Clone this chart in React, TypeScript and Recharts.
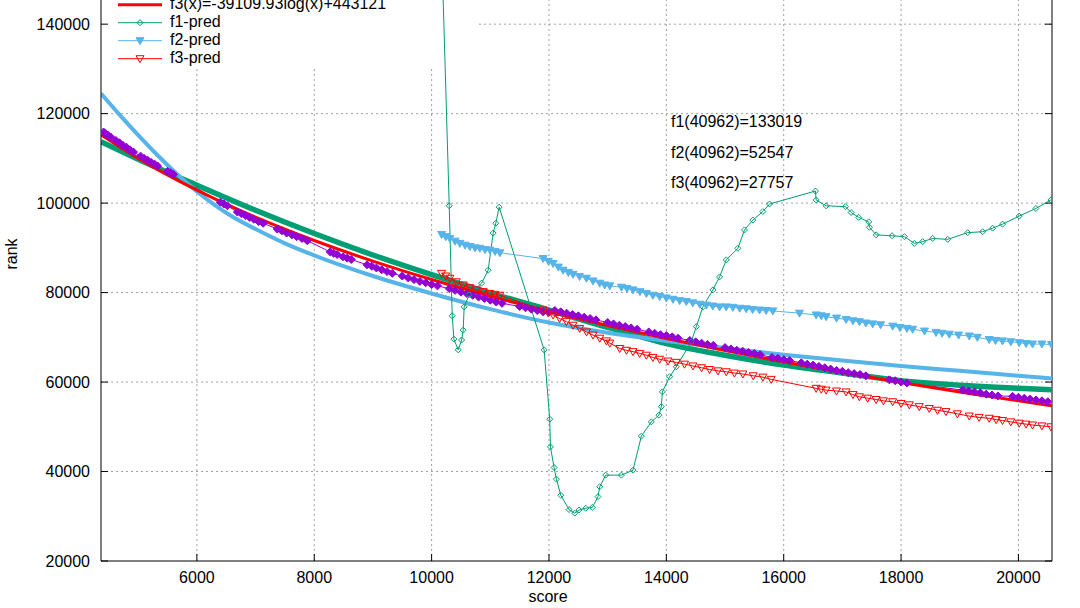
import { ComposedChart, Line, XAxis, YAxis, ReferenceLine } from 'recharts'

type Pt = [number, number]

const X_MIN = 4366
const X_MAX = 20572
const Y_MIN = 20000
const Y_MAX = 145400

const xTicks = [6000, 8000, 10000, 12000, 14000, 16000, 18000, 20000]
const yTicks = [20000, 40000, 60000, 80000, 100000, 120000, 140000]

// measured rank data (purple diamonds)
const rankData: Pt[] = [
  [4410, 115900], [4450, 115500], [4490, 115100], [4530, 114800],
  [4620, 114000], [4680, 113500], [4740, 112900], [4800, 112500], [4860, 111900], [4920, 111400],
  [5040, 110500], [5100, 110000], [5160, 109600], [5220, 109100], [5280, 108700], [5330, 108300],
  [5500, 107100], [5550, 106800], [5600, 106400],
  [6400, 100200], [6460, 99800], [6520, 99400],
  [6690, 98000], [6760, 97600], [6830, 97200], [6900, 96800], [6970, 96400], [7050, 95900], [7130, 95500],
  [7370, 94200], [7450, 93800], [7530, 93300], [7620, 92900], [7700, 92500], [7790, 92100], [7880, 91600],
  [8270, 89100], [8330, 88800], [8390, 88500],
  [8490, 88000], [8560, 87700], [8630, 87400],
  [8900, 86200], [8980, 85900], [9060, 85500], [9150, 85100], [9240, 84700], [9330, 84300],
  [9500, 83700], [9600, 83300], [9700, 82900], [9800, 82500], [9900, 82200], [10000, 81800], [10100, 81500],
  [10300, 80900], [10400, 80500], [10500, 80100], [10600, 79800], [10700, 79400], [10800, 79000],
  [10900, 78700], [11000, 78300], [11100, 77900], [11200, 77600],
  [11500, 76900], [11600, 76600], [11700, 76300], [11800, 76000], [11900, 75700], [12000, 75600],
  [12100, 76000], [12200, 75700], [12300, 75400], [12400, 75100], [12500, 74800], [12600, 74500],
  [12700, 74200], [12800, 73900],
  [13000, 73300], [13100, 73000], [13200, 72700], [13300, 72400], [13400, 72100], [13500, 71800],
  [13700, 71200], [13800, 70900], [13900, 70600], [14000, 70400], [14100, 70100], [14200, 69800],
  [14400, 69300], [14500, 69000], [14600, 68700], [14700, 68400], [14800, 68200],
  [15000, 67700], [15100, 67400], [15200, 67100], [15300, 66900], [15400, 66600], [15500, 66400], [15600, 66100],
  [15800, 65500], [15900, 65300], [16000, 65000], [16100, 64800],
  [16300, 64300], [16400, 64000], [16500, 63800], [16600, 63500], [16700, 63200], [16800, 62900], [16900, 62600],
  [17000, 62400], [17100, 62100], [17200, 61900], [17300, 61700], [17400, 61400],
  [17800, 60500], [17900, 60300], [18000, 60000], [18100, 59800],
  [19050, 58200], [19150, 58000], [19250, 57800], [19350, 57600], [19450, 57300], [19550, 57100], [19650, 56900],
  [19900, 56800], [20000, 56600], [20100, 56400], [20200, 56200], [20300, 56000], [20400, 55800], [20500, 55600],
]

// fitted curves
const f1Fit: Pt[] = [
  [4366, 113700], [5000, 109800], [6000, 104000], [7000, 98400], [8000, 93200], [9000, 88400],
  [10000, 84000], [11000, 79900], [12000, 76100], [13000, 72200], [14000, 68600], [15000, 66000],
  [16000, 63800], [17000, 62000], [18000, 60300], [19000, 59300], [20000, 58600], [20572, 58300],
]
const f2Fit: Pt[] = [
  [4366, 124500], [4700, 119500], [5000, 115200], [5330, 110700], [5660, 106500], [6000, 102600],
  [6300, 99600], [6600, 97000], [7000, 94200], [7500, 91000], [8000, 88300], [9000, 83700],
  [10000, 79800], [11000, 76300], [12000, 73300], [13000, 71000], [14000, 69200], [15000, 67600],
  [16000, 66100], [17000, 64800], [18000, 63600], [19000, 62500], [20000, 61400], [20572, 60800],
]
const f3Fit: Pt[] = [
  [4366, 115300], [5000, 110000], [6000, 102900], [7000, 96850], [8000, 91640], [9000, 87030],
  [10000, 82910], [11000, 79180], [12000, 75770], [13000, 72640], [14000, 69750], [15000, 67050],
  [16000, 64530], [17000, 62150], [18000, 59920], [19000, 57800], [20000, 55800], [20572, 54700],
]

// predictions
const f1Pred: Pt[] = [
  [10170, 157500], [10300, 99400], [10351, 74800], [10380, 69600], [10453, 67200], [10511, 69400],
  [10538, 71600], [10555, 76800], [10640, 79500], [10851, 82100], [10963, 85000], [11049, 93300],
  [11094, 95500], [11151, 99100], [11917, 67200], [12013, 51700], [12025, 45500], [12087, 40900],
  [12127, 38300], [12201, 34700], [12342, 31500], [12439, 30700], [12513, 31400], [12626, 31800],
  [12740, 32000], [12836, 34400], [12865, 36600], [12967, 39200], [13234, 39200], [13432, 40300],
  [13574, 47900], [13744, 51100], [13874, 52600], [13915, 54500], [13932, 57800], [14056, 61200],
  [14170, 63400], [14425, 69000], [14511, 72400], [14623, 76800], [14793, 80600], [14907, 83500],
  [15021, 87300], [15219, 89900], [15332, 94000], [15474, 96200], [15645, 98100], [15758, 99800],
  [16541, 102700], [16553, 100700], [16723, 99400], [17052, 99200], [17149, 97900], [17279, 96800],
  [17449, 95800], [17461, 94600], [17575, 92900], [17847, 92700], [18057, 92500], [18227, 91000],
  [18369, 91400], [18539, 92100], [18795, 91900], [19135, 93400], [19390, 93600], [19560, 94400],
  [19730, 95300], [20013, 97100], [20297, 98800], [20553, 100700],
]
const f2Pred: Pt[] = [
  [10170, 93000], [10240, 92500], [10311, 92100], [10400, 91500], [10482, 91000], [10570, 90600],
  [10652, 90300], [10740, 90000], [10822, 89900], [10910, 89600], [10992, 89500], [11080, 89200],
  [11163, 88900],
  [11900, 87600], [11990, 87000], [12070, 86500], [12160, 85700], [12240, 85000], [12330, 84500],
  [12410, 84100], [12520, 83600], [12638, 83200], [12750, 82600], [12865, 82100], [12950, 81700],
  [13036, 81500],
  [13234, 81200], [13330, 80900], [13432, 80600], [13550, 80200], [13659, 79800], [13770, 79400],
  [13886, 79100], [14000, 78800], [14113, 78500], [14227, 78200],
  [14340, 78000], [14450, 77700], [14570, 77400], [14681, 77200], [14790, 77000], [14907, 76800],
  [15020, 76800], [15134, 76700], [15250, 76500], [15361, 76400], [15470, 76200], [15588, 76100],
  [15700, 76000], [15815, 75900],
  [16269, 75400], [16553, 75000], [16640, 74800], [16723, 74600], [16900, 74300], [17063, 74000],
  [17180, 73700], [17290, 73500], [17400, 73200], [17517, 73000], [17650, 72800], [17857, 72500],
  [17980, 72200], [18100, 72000], [18197, 71800], [18400, 71400], [18595, 71100], [18700, 70900],
  [18822, 70700], [18980, 70500], [19162, 70300], [19300, 70000], [19502, 69500], [19610, 69300],
  [19729, 69200], [19870, 69000], [20013, 68800], [20130, 68600], [20240, 68500], [20400, 68500],
  [20563, 68400],
]
const f3Pred: Pt[] = [
  [10170, 84300], [10240, 83700], [10311, 83200], [10420, 82400], [10538, 81700], [10650, 81100],
  [10765, 80600], [10880, 80200], [10992, 79800], [11080, 79600], [11163, 79400],
  [11900, 76100], [11985, 75500], [12070, 75000], [12180, 74200], [12297, 73500], [12410, 72700],
  [12524, 72000], [12640, 71200], [12751, 70500], [12865, 69800], [12979, 69200], [13036, 68700],
  [13206, 67500], [13320, 67100], [13432, 66800], [13545, 66400], [13659, 66000], [13770, 65500],
  [13886, 65100], [14028, 64700], [14170, 64400], [14310, 64000], [14453, 63600], [14600, 63200],
  [14737, 62800], [14880, 62500], [15021, 62300], [15160, 62000], [15304, 61800], [15480, 61400],
  [15645, 61100], [15787, 60600],
  [16553, 58600], [16640, 58400], [16723, 58200], [16900, 58000], [17063, 57800], [17180, 57200],
  [17290, 56700], [17430, 56400], [17575, 56100], [17700, 55800], [17857, 55600], [18000, 55200],
  [18141, 54900], [18310, 54500], [18481, 54100], [18620, 53700], [18765, 53400], [18960, 52900],
  [19162, 52400], [19330, 52100], [19502, 51900], [19620, 51600], [19729, 51400], [19870, 51100],
  [20013, 50800], [20130, 50600], [20240, 50400], [20400, 50200], [20553, 50000],
]

const PURPLE = '#9400d3'
const GREEN = '#009e73'
const BLUE = '#56b4e9'
const RED = '#ff0000'
const GRID = '#a0a0a0'

const rows = (pts: Pt[]) => pts.map(([x, y]) => ({ x, y }))

const diamond = (fill: string, stroke: string, r: number) => (p: any) => {
  const { cx, cy, index } = p
  if (cx == null || cy == null) return <g key={`d-${index}`} />
  return (
    <path
      key={`d-${index}`}
      d={`M${cx},${cy - r}L${cx + r},${cy}L${cx},${cy + r}L${cx - r},${cy}Z`}
      fill={fill}
      stroke={stroke}
      strokeWidth={1}
    />
  )
}

const triangle = (fill: string, stroke: string) => (p: any) => {
  const { cx, cy, index } = p
  if (cx == null || cy == null) return <g key={`t-${index}`} />
  return (
    <path
      key={`t-${index}`}
      d={`M${cx - 4},${cy - 3}L${cx + 4},${cy - 3}L${cx},${cy + 4}Z`}
      fill={fill}
      stroke={stroke}
      strokeWidth={1}
    />
  )
}

// key area in the top-left has no grid behind it
const KEY_RIGHT = 10807
const KEY_BOTTOM = 130400
const TICK_X = 119
const TICK_Y = 1565

const FONT = '"Liberation Sans", Arial, sans-serif'

const App = () => {
  return (
    <div style={{ position: 'relative', width: 1080, height: 608, overflow: 'hidden', background: '#fff', fontFamily: FONT }}>
      <style>{'body{margin:0}'}</style>
      <ComposedChart width={1080} height={608} margin={{ top: 0, right: 28, bottom: 0, left: 0 }}>
        <XAxis
          type="number"
          dataKey="x"
          domain={[X_MIN, X_MAX]}
          ticks={xTicks}
          interval={0}
          allowDataOverflow
          height={47}
          tickLine={false}
          tickMargin={5}
          axisLine={{ stroke: '#000' }}
          tick={{ fill: '#000', fontSize: 16 }}
        />
        <YAxis
          type="number"
          dataKey="y"
          domain={[Y_MIN, Y_MAX]}
          ticks={yTicks}
          interval={0}
          allowDataOverflow
          width={101}
          tickLine={false}
          tickMargin={5}
          axisLine={{ stroke: '#000' }}
          tick={{ fill: '#000', fontSize: 16 }}
        />

        {xTicks.map((t) => (
          <ReferenceLine
            key={`gx-${t}`}
            segment={[{ x: t, y: Y_MIN }, { x: t, y: t < KEY_RIGHT ? KEY_BOTTOM : Y_MAX }]}
            stroke={GRID}
            strokeDasharray="2 3"
          />
        ))}
        {yTicks.slice(1).map((t) => (
          <ReferenceLine
            key={`gy-${t}`}
            segment={[{ x: t > KEY_BOTTOM ? KEY_RIGHT : X_MIN, y: t }, { x: X_MAX, y: t }]}
            stroke={GRID}
            strokeDasharray="2 3"
          />
        ))}
        {yTicks.map((t) => (
          <ReferenceLine key={`tl-${t}`} segment={[{ x: X_MIN, y: t }, { x: X_MIN + TICK_X, y: t }]} stroke="#000" />
        ))}
        {yTicks.map((t) => (
          <ReferenceLine key={`tr-${t}`} segment={[{ x: X_MAX - TICK_X, y: t }, { x: X_MAX, y: t }]} stroke="#000" />
        ))}
        {xTicks.map((t) => (
          <ReferenceLine key={`tb-${t}`} segment={[{ x: t, y: Y_MIN }, { x: t, y: Y_MIN + TICK_Y }]} stroke="#000" />
        ))}
        <ReferenceLine x={X_MAX} stroke="#000" />

        <Line
          data={rows(rankData)}
          dataKey="y"
          type="linear"
          stroke={PURPLE}
          strokeWidth={1}
          dot={diamond(PURPLE, PURPLE, 4)}
          activeDot={false}
          isAnimationActive={false}
        />
        <Line data={rows(f1Fit)} dataKey="y" type="monotone" stroke={GREEN} strokeWidth={5.5} dot={false} activeDot={false} isAnimationActive={false} />
        <Line data={rows(f2Fit)} dataKey="y" type="monotone" stroke={BLUE} strokeWidth={4} dot={false} activeDot={false} isAnimationActive={false} />
        <Line data={rows(f3Fit)} dataKey="y" type="monotone" stroke={RED} strokeWidth={3} dot={false} activeDot={false} isAnimationActive={false} />
        <Line
          data={rows(f1Pred)}
          dataKey="y"
          type="linear"
          stroke={GREEN}
          strokeWidth={1}
          dot={diamond('none', GREEN, 3)}
          activeDot={false}
          isAnimationActive={false}
        />
        <Line
          data={rows(f2Pred)}
          dataKey="y"
          type="linear"
          stroke={BLUE}
          strokeWidth={1}
          dot={triangle(BLUE, BLUE)}
          activeDot={false}
          isAnimationActive={false}
        />
        <Line
          data={rows(f3Pred)}
          dataKey="y"
          type="linear"
          stroke={RED}
          strokeWidth={1}
          dot={triangle('none', RED)}
          activeDot={false}
          isAnimationActive={false}
        />
      </ComposedChart>

      <svg
        width={1080}
        height={608}
        style={{ position: 'absolute', left: 0, top: 0, pointerEvents: 'none', fontFamily: FONT }}
      >
        <g fontSize={16} fill="#000">
          <line x1={118} x2={162} y1={4.7} y2={4.7} stroke={RED} strokeWidth={3} />
          <text x={170} y={9}>f3(x)=-39109.93log(x)+443121</text>

          <line x1={118} x2={162} y1={22.7} y2={22.7} stroke={GREEN} strokeWidth={1} />
          <path d="M140,19.7L143,22.7L140,25.7L137,22.7Z" fill="none" stroke={GREEN} />
          <text x={170} y={27}>f1-pred</text>

          <line x1={118} x2={162} y1={40.7} y2={40.7} stroke={BLUE} strokeWidth={1} />
          <path d="M136,37.7L144,37.7L140,44.7Z" fill={BLUE} stroke={BLUE} />
          <text x={170} y={45}>f2-pred</text>

          <line x1={118} x2={162} y1={58.7} y2={58.7} stroke={RED} strokeWidth={1} />
          <path d="M136,55.7L144,55.7L140,62.7Z" fill="none" stroke={RED} />
          <text x={170} y={63}>f3-pred</text>

          <text x={671} y={127}>f1(40962)=133019</text>
          <text x={671} y={157.5}>f2(40962)=52547</text>
          <text x={671} y={188}>f3(40962)=27757</text>

          <text x={548} y={602} textAnchor="middle">score</text>
          <text x={0} y={0} textAnchor="middle" transform="translate(17,254) rotate(-90)">rank</text>
        </g>
      </svg>
    </div>
  )
}

export default App
